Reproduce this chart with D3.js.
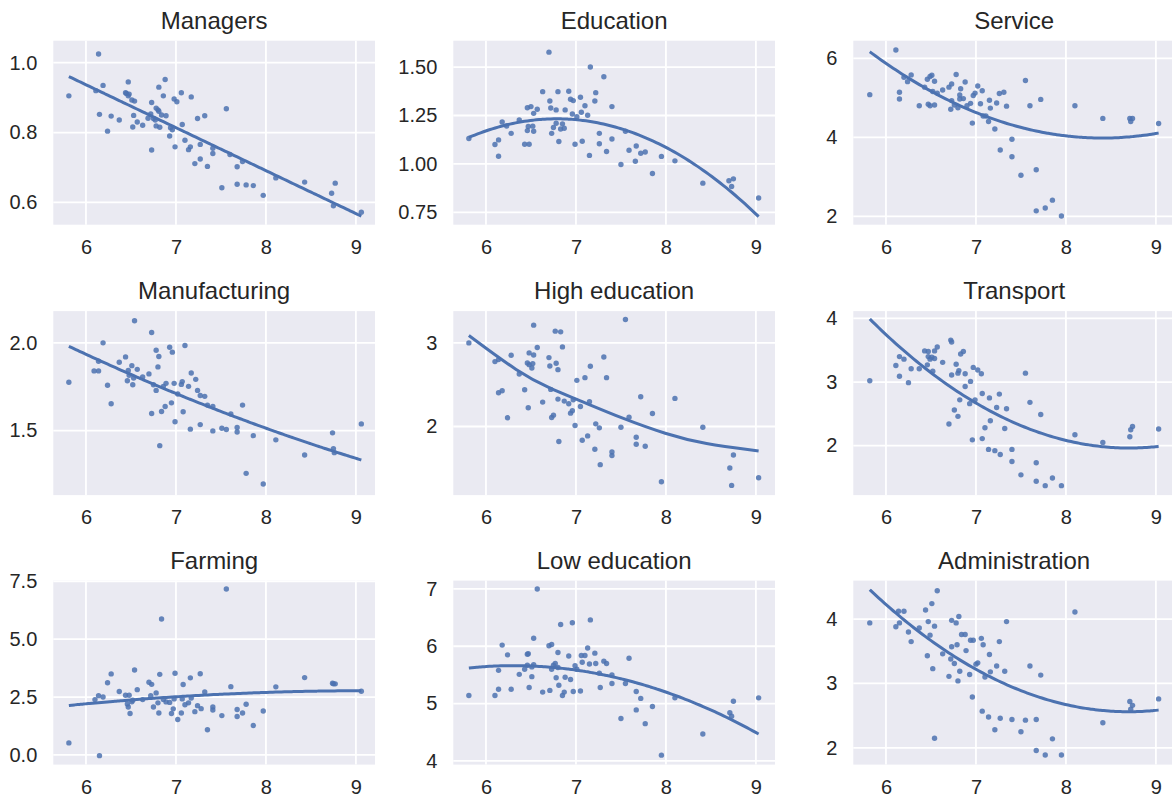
<!DOCTYPE html>
<html>
<head>
<meta charset="utf-8">
<script src="https://cdn.jsdelivr.net/npm/d3@7"></script>
<style>
  body { margin: 0; background: #fff; }
  svg { display: block; font-family: "Liberation Sans", Arial, sans-serif; }
</style>
</head>
<body>
<div id="chart"></div>
<script>
// values, [x, y]
const managers = [[5.81,0.905],[6.14,1.025],[6.11,0.92],[6.19,0.935],[6.15,0.852],[6.24,0.804],[6.28,0.847],[6.37,0.836],[6.47,0.945],[6.44,0.914],[6.45,0.912],[6.48,0.91],[6.47,0.905],[6.51,0.893],[6.54,0.89],[6.53,0.849],[6.52,0.816],[6.57,0.83],[6.63,0.821],[6.69,0.841],[6.72,0.853],[6.73,0.886],[6.73,0.75],[6.75,0.84],[6.77,0.836],[6.78,0.87],[6.80,0.865],[6.81,0.861],[6.81,0.93],[6.78,0.819],[6.82,0.815],[6.84,0.85],[6.86,0.905],[6.88,0.952],[6.89,0.848],[6.93,0.79],[6.94,0.814],[6.96,0.808],[6.98,0.896],[7.01,0.888],[6.99,0.759],[7.06,0.914],[7.07,0.823],[7.10,0.778],[7.14,0.751],[7.16,0.759],[7.17,0.902],[7.21,0.711],[7.24,0.84],[7.27,0.766],[7.27,0.724],[7.32,0.848],[7.35,0.703],[7.41,0.74],[7.41,0.755],[7.51,0.642],[7.56,0.868],[7.60,0.737],[7.68,0.652],[7.68,0.702],[7.74,0.717],[7.78,0.65],[7.86,0.648],[7.97,0.62],[8.11,0.67],[8.43,0.658],[8.73,0.626],[8.77,0.655],[8.75,0.59],[9.06,0.572]];

const education = [[5.81,1.131],[6.10,1.10],[6.14,1.124],[6.14,1.04],[6.18,1.217],[6.23,1.196],[6.28,1.158],[6.37,1.227],[6.43,1.102],[6.48,1.102],[6.46,1.172],[6.47,1.193],[6.52,1.195],[6.53,1.169],[6.46,1.29],[6.50,1.296],[6.53,1.261],[6.57,1.282],[6.63,1.373],[6.70,1.577],[6.71,1.325],[6.72,1.289],[6.73,1.158],[6.75,1.188],[6.78,1.279],[6.78,1.21],[6.80,1.373],[6.81,1.116],[6.83,1.18],[6.85,1.207],[6.87,1.184],[6.88,1.279],[6.92,1.375],[6.94,1.334],[6.97,1.327],[6.96,1.258],[6.99,1.102],[7.01,1.244],[7.05,1.344],[7.06,1.267],[7.07,1.117],[7.10,1.30],[7.13,1.251],[7.15,1.044],[7.16,1.50],[7.21,1.325],[7.22,1.368],[7.26,1.104],[7.26,1.158],[7.31,1.45],[7.34,1.064],[7.40,1.296],[7.40,1.129],[7.50,0.997],[7.55,1.169],[7.59,1.071],[7.66,1.014],[7.67,1.093],[7.72,1.055],[7.77,1.062],[7.85,0.951],[7.95,1.039],[8.10,1.016],[8.41,0.901],[8.70,0.913],[8.75,0.923],[8.73,0.884],[9.03,0.824]];

const service = [[5.82,5.08],[6.11,6.21],[6.15,5.14],[6.15,4.97],[6.20,5.52],[6.24,5.41],[6.28,5.58],[6.37,4.80],[6.43,5.27],[6.46,5.47],[6.49,5.54],[6.51,5.57],[6.54,5.42],[6.52,5.16],[6.47,4.84],[6.49,4.80],[6.54,4.82],[6.57,5.12],[6.63,5.20],[6.70,5.27],[6.73,5.35],[6.72,4.71],[6.73,4.93],[6.76,4.82],[6.78,5.59],[6.80,4.75],[6.82,5.07],[6.83,5.23],[6.82,4.97],[6.86,4.98],[6.88,5.40],[6.90,4.80],[6.94,4.86],[6.96,4.36],[6.97,5.06],[6.99,5.12],[7.02,5.30],[7.05,4.85],[7.07,5.18],[7.08,4.54],[7.11,4.54],[7.14,4.40],[7.15,4.94],[7.16,4.74],[7.21,4.21],[7.23,4.87],[7.26,5.11],[7.31,5.14],[7.34,4.79],[7.27,3.68],[7.40,3.95],[7.40,3.51],[7.50,3.04],[7.55,5.44],[7.60,4.80],[7.67,3.18],[7.67,2.14],[7.72,4.96],[7.77,2.21],[7.85,2.41],[7.95,2.01],[8.10,4.80],[8.41,4.48],[8.71,4.48],[8.74,4.48],[8.72,4.40],[9.03,4.35]];

const manufacturing = [[5.81,1.775],[6.09,1.84],[6.14,1.84],[6.14,1.895],[6.19,2.0],[6.24,1.758],[6.28,1.653],[6.37,1.889],[6.44,1.92],[6.47,1.843],[6.46,1.784],[6.48,1.815],[6.51,1.87],[6.52,1.761],[6.53,1.80],[6.54,2.126],[6.57,1.849],[6.63,1.805],[6.70,1.823],[6.73,2.059],[6.73,1.597],[6.75,1.761],[6.78,1.958],[6.78,1.729],[6.80,1.863],[6.81,1.922],[6.82,1.414],[6.84,1.609],[6.86,1.752],[6.89,1.769],[6.88,1.637],[6.93,1.975],[6.95,1.658],[6.96,1.947],[6.98,1.769],[6.99,1.55],[7.02,1.708],[7.06,1.763],[7.07,1.779],[7.08,1.607],[7.10,1.985],[7.14,1.752],[7.17,1.828],[7.16,1.508],[7.22,1.792],[7.24,1.729],[7.27,1.534],[7.27,1.70],[7.32,1.695],[7.35,1.645],[7.41,1.637],[7.41,1.498],[7.51,1.513],[7.56,1.506],[7.61,1.594],[7.68,1.517],[7.68,1.492],[7.74,1.645],[7.78,1.256],[7.86,1.471],[7.97,1.195],[8.11,1.447],[8.43,1.361],[8.74,1.487],[8.75,1.397],[8.76,1.374],[9.06,1.538]];

const highEducation = [[5.81,3.0],[6.10,2.776],[6.14,2.80],[6.14,2.404],[6.18,2.428],[6.24,2.104],[6.28,2.852],[6.37,2.628],[6.43,2.44],[6.46,2.76],[6.47,2.224],[6.48,2.88],[6.48,2.74],[6.51,2.70],[6.52,2.752],[6.53,2.856],[6.53,3.212],[6.57,2.944],[6.63,2.292],[6.70,2.824],[6.71,2.724],[6.72,2.444],[6.73,2.108],[6.75,2.136],[6.77,3.14],[6.78,2.756],[6.80,2.328],[6.80,2.68],[6.81,1.82],[6.83,3.132],[6.85,2.952],[6.87,2.304],[6.92,2.272],[6.94,2.16],[6.96,2.188],[6.97,2.32],[6.99,2.012],[7.01,2.552],[7.05,2.24],[7.07,1.836],[7.10,2.584],[7.13,1.888],[7.15,2.296],[7.16,2.72],[7.21,1.728],[7.22,2.032],[7.26,1.984],[7.27,1.544],[7.31,2.832],[7.34,2.584],[7.40,1.696],[7.40,1.652],[7.50,1.992],[7.55,3.28],[7.59,2.112],[7.67,1.872],[7.67,1.788],[7.72,2.356],[7.77,1.764],[7.85,2.156],[7.95,1.34],[8.10,2.336],[8.41,1.992],[8.71,1.504],[8.73,1.296],[8.75,1.66],[9.03,1.388]];

// the drawn fit for this panel does not follow a plain fit of the visible dots, so it is read off too
const highEducationFit = [[5.81,3.088],[6.37,2.64],[6.72,2.45],[7.0,2.33],[7.53,2.09],[8.0,1.91],[8.42,1.79],[9.03,1.708]];

const transport = [[5.82,3.02],[6.11,3.26],[6.15,3.40],[6.15,3.09],[6.20,3.36],[6.25,2.99],[6.28,3.21],[6.37,3.21],[6.43,3.49],[6.47,3.48],[6.47,3.40],[6.49,3.36],[6.46,3.27],[6.51,3.39],[6.52,3.17],[6.54,3.37],[6.54,3.49],[6.57,3.55],[6.63,3.31],[6.70,2.34],[6.72,3.66],[6.73,3.63],[6.73,3.11],[6.76,2.56],[6.78,3.28],[6.80,3.14],[6.80,2.46],[6.81,3.18],[6.82,2.72],[6.83,3.44],[6.86,3.48],[6.88,3.13],[6.88,2.93],[6.94,3.01],[6.93,2.66],[6.96,2.09],[6.97,3.23],[6.99,2.72],[7.02,3.19],[7.06,3.13],[7.07,2.82],[7.07,2.11],[7.10,2.28],[7.14,1.94],[7.15,2.75],[7.16,2.39],[7.21,1.92],[7.23,2.60],[7.26,2.81],[7.27,1.86],[7.32,2.27],[7.34,2.58],[7.40,1.94],[7.40,1.75],[7.50,1.54],[7.55,3.14],[7.60,2.68],[7.67,1.73],[7.67,1.44],[7.72,2.49],[7.77,1.37],[7.85,1.49],[7.95,1.37],[8.10,2.17],[8.41,2.05],[8.71,2.14],[8.72,2.25],[8.74,2.30],[9.03,2.26]];

const farming = [[5.81,0.52],[6.10,2.39],[6.14,2.56],[6.15,-0.03],[6.19,2.50],[6.24,3.12],[6.28,3.50],[6.37,2.74],[6.44,2.58],[6.46,2.20],[6.47,2.07],[6.48,2.58],[6.49,1.79],[6.51,2.30],[6.52,2.36],[6.54,3.67],[6.57,2.82],[6.63,2.39],[6.70,3.14],[6.72,2.56],[6.73,3.05],[6.75,2.07],[6.78,2.68],[6.81,1.81],[6.82,3.48],[6.80,2.25],[6.84,5.87],[6.86,2.39],[6.89,2.29],[6.93,2.27],[6.95,1.79],[6.97,1.99],[6.98,2.42],[6.99,3.53],[7.02,1.53],[7.06,1.81],[7.07,2.42],[7.08,3.04],[7.10,2.17],[7.14,2.25],[7.16,3.33],[7.17,2.46],[7.21,1.87],[7.24,2.13],[7.27,3.51],[7.28,2.00],[7.32,2.72],[7.35,1.09],[7.41,2.07],[7.41,1.94],[7.51,1.70],[7.56,7.17],[7.61,2.95],[7.68,1.96],[7.68,1.66],[7.74,1.81],[7.78,2.19],[7.86,1.27],[7.97,1.90],[8.11,2.94],[8.43,3.34],[8.74,3.10],[8.75,3.07],[8.77,3.07],[9.06,2.75]];

const lowEducation = [[5.81,5.14],[6.10,5.14],[6.14,5.25],[6.14,5.58],[6.18,6.02],[6.24,5.85],[6.28,5.25],[6.37,5.51],[6.43,5.60],[6.46,5.86],[6.47,5.87],[6.46,5.67],[6.48,5.28],[6.51,5.64],[6.51,5.47],[6.53,5.68],[6.53,6.14],[6.57,7.0],[6.63,5.20],[6.70,6.01],[6.71,5.23],[6.73,6.03],[6.73,5.60],[6.75,5.67],[6.77,5.70],[6.78,5.45],[6.80,5.89],[6.80,5.63],[6.81,5.32],[6.83,6.38],[6.85,5.14],[6.87,5.20],[6.88,5.46],[6.92,5.83],[6.94,5.42],[6.96,6.41],[6.97,5.21],[6.99,5.66],[7.01,5.60],[7.05,5.22],[7.06,5.84],[7.07,5.72],[7.10,5.84],[7.13,5.97],[7.15,5.69],[7.16,6.46],[7.21,5.88],[7.22,5.70],[7.26,5.53],[7.27,5.28],[7.31,5.74],[7.34,5.70],[7.40,5.50],[7.40,5.35],[7.50,4.74],[7.55,5.35],[7.59,5.79],[7.67,5.21],[7.67,4.89],[7.72,5.09],[7.77,4.65],[7.85,4.95],[7.95,4.10],[8.10,5.10],[8.41,4.47],[8.71,4.84],[8.73,4.78],[8.75,5.04],[9.03,5.10]];

const administration = [[5.82,3.94],[6.11,3.88],[6.14,4.12],[6.15,3.94],[6.20,4.12],[6.25,3.80],[6.28,3.65],[6.37,3.86],[6.44,4.14],[6.46,3.43],[6.47,3.96],[6.49,3.75],[6.51,4.24],[6.52,3.23],[6.54,3.89],[6.54,2.15],[6.57,4.44],[6.63,3.46],[6.70,3.11],[6.72,3.38],[6.73,3.98],[6.73,3.57],[6.76,3.31],[6.78,3.94],[6.79,3.60],[6.81,4.04],[6.80,3.04],[6.82,3.19],[6.84,3.76],[6.88,3.76],[6.89,3.51],[6.93,3.14],[6.94,3.67],[6.97,3.67],[6.96,2.79],[7.00,3.30],[7.02,3.32],[7.06,3.70],[7.07,2.57],[7.08,3.60],[7.10,3.10],[7.14,2.48],[7.15,3.45],[7.16,3.18],[7.21,2.28],[7.23,3.27],[7.26,3.65],[7.27,2.46],[7.32,3.19],[7.34,3.96],[7.40,2.44],[7.50,2.25],[7.55,2.43],[7.60,3.27],[7.67,2.44],[7.67,1.96],[7.72,3.13],[7.77,1.89],[7.85,2.14],[7.95,1.89],[8.10,4.11],[8.41,2.39],[8.71,2.72],[8.74,2.66],[8.72,2.60],[9.03,2.76]];

const titles = ["Managers", "Education", "Service", "Manufacturing", "High education", "Transport", "Farming", "Low education", "Administration"];
const series = [managers, education, service, manufacturing, highEducation, transport, farming, lowEducation, administration];
const fitOrder = [1, 2, 2, 2, 2, 2, 2, 2, 2];
const readFits = [null, null, null, null, highEducationFit, null, null, null, null];

const xTicks = [6, 7, 8, 9];
const xDomain = [5.637, 9.212];
const yTicks = [[0.6, 0.8, 1.0], [0.75, 1.0, 1.25, 1.5], [2, 4, 6],
                [1.5, 2.0], [2, 3], [2, 3, 4],
                [0, 2.5, 5, 7.5], [4, 5, 6, 7], [2, 3, 4]];
const yFormats = [".1f", ".2f", "d", ".1f", "d", "d", ".1f", "d", "d"];
const yDomains = [[0.536, 1.063], [0.6865, 1.636], [1.789, 6.446],
                  [1.132, 2.181], [1.18, 3.38], [1.221, 4.116],
                  [-0.417, 7.53], [3.935, 7.146], [1.74, 4.597]];

const width = 1172, height = 798;
const colLeft = [53.3, 453.3, 853.3], rowTop = [40.7, 311.1, 580.6];
const plotW = 321.7, plotH = 184;

const svg = d3.select("#chart").append("svg")
    .attr("width", width)
    .attr("height", height);

// least squares polynomial, solved with gaussian elimination
function polyfit(pts, order) {
    let n = order + 1;
    let A = [], b = [];
    for (let i = 0; i < n; i++) {
        A.push(new Array(n).fill(0));
        b.push(0);
    }
    pts.forEach(function (p) {
        for (let i = 0; i < n; i++) {
            for (let j = 0; j < n; j++) A[i][j] += Math.pow(p[0], i + j);
            b[i] += p[1] * Math.pow(p[0], i);
        }
    });
    for (let k = 0; k < n; k++) {
        let piv = k;
        for (let i = k + 1; i < n; i++) if (Math.abs(A[i][k]) > Math.abs(A[piv][k])) piv = i;
        [A[k], A[piv]] = [A[piv], A[k]];
        [b[k], b[piv]] = [b[piv], b[k]];
        for (let i = k + 1; i < n; i++) {
            let f = A[i][k] / A[k][k];
            for (let j = k; j < n; j++) A[i][j] -= f * A[k][j];
            b[i] -= f * b[k];
        }
    }
    let c = new Array(n).fill(0);
    for (let i = n - 1; i >= 0; i--) {
        let s = b[i];
        for (let j = i + 1; j < n; j++) s -= A[i][j] * c[j];
        c[i] = s / A[i][i];
    }
    return c;
}

function fitLine(idx) {
    if (readFits[idx]) return readFits[idx];
    let pts = series[idx];
    let c = polyfit(pts, fitOrder[idx]);
    let ext = d3.extent(pts, d => d[0]);
    return d3.range(100).map(function (i) {
        let v = ext[0] + (ext[1] - ext[0]) * i / 99;
        return [v, c.reduce((s, ci, k) => s + ci * Math.pow(v, k), 0)];
    });
}

function drawPanel(idx) {
    let pts = series[idx];
    let g = svg.append("g")
        .attr("transform", `translate(${colLeft[idx % 3]},${rowTop[Math.floor(idx / 3)]})`);

    let x = d3.scaleLinear().domain(xDomain).range([0, plotW]);
    let y = d3.scaleLinear().domain(yDomains[idx]).range([plotH, 0]);

    g.append("rect")
        .attr("width", plotW)
        .attr("height", plotH)
        .attr("fill", "#EAEAF2");

    // grid
    g.selectAll(".vgrid").data(xTicks).enter().append("line")
        .attr("x1", d => x(d)).attr("x2", d => x(d))
        .attr("y1", 0).attr("y2", plotH)
        .attr("stroke", "#fff").attr("stroke-width", 1.8);
    g.selectAll(".hgrid").data(yTicks[idx]).enter().append("line")
        .attr("y1", d => y(d)).attr("y2", d => y(d))
        .attr("x1", 0).attr("x2", plotW)
        .attr("stroke", "#fff").attr("stroke-width", 1.8);

    // axes, without domain line or ticks
    let xAxis = g.append("g")
        .attr("transform", `translate(0,${plotH})`)
        .call(d3.axisBottom(x).tickValues(xTicks).tickSize(0).tickPadding(15).tickFormat(d3.format("d")));
    let yAxis = g.append("g")
        .call(d3.axisLeft(y).tickValues(yTicks[idx]).tickSize(0).tickPadding(16).tickFormat(d3.format(yFormats[idx])));
    [xAxis, yAxis].forEach(function (a) {
        a.select(".domain").remove();
        a.selectAll("text")
            .attr("font-family", "'Liberation Sans', Arial, sans-serif")
            .attr("font-size", 20)
            .attr("fill", "#262626");
    });

    g.selectAll(".dot").data(pts).enter().append("circle")
        .attr("cx", d => x(d[0]))
        .attr("cy", d => y(d[1]))
        .attr("r", 2.7)
        .attr("fill", "#4C72B0")
        .attr("fill-opacity", 0.85);

    g.append("path")
        .datum(fitLine(idx))
        .attr("fill", "none")
        .attr("stroke", "#4C72B0")
        .attr("stroke-width", 3)
        .attr("d", d3.line().curve(d3.curveBasis).x(d => x(d[0])).y(d => y(d[1])));

    g.append("text")
        .attr("x", plotW / 2)
        .attr("y", -12)
        .attr("text-anchor", "middle")
        .attr("font-size", 24)
        .attr("fill", "#262626")
        .text(titles[idx]);
}

d3.range(9).forEach(drawPanel);
</script>
</body>
</html>
